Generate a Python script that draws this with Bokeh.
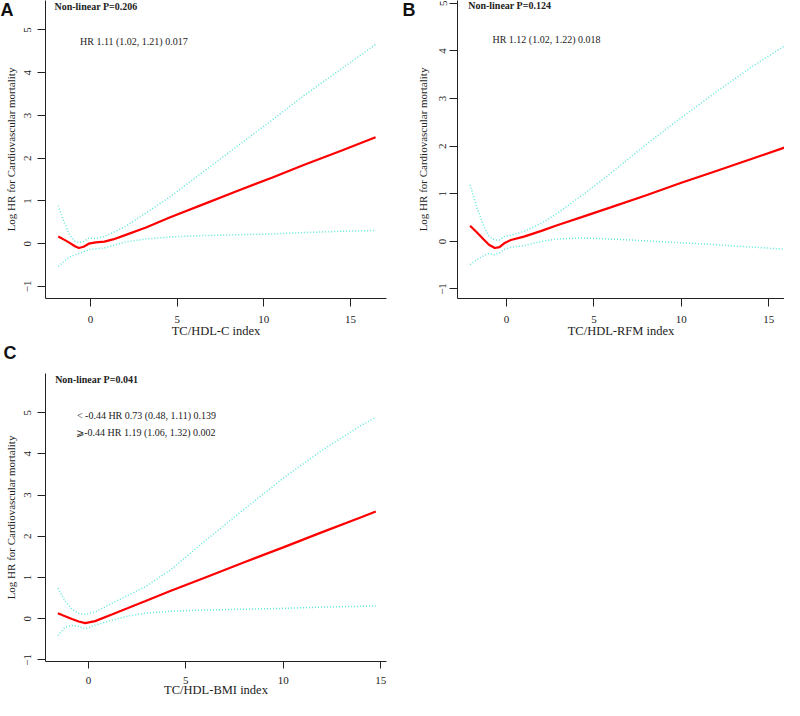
from bokeh.plotting import figure
from bokeh.models import Range1d, FixedTicker, Label
from bokeh.layouts import column, row
from bokeh.embed import file_html
from bokeh.resources import INLINE

# ---------------- data ----------------
x_ticks = [0, 5, 10, 15]
y_ticks = [-1, 0, 1, 2, 3, 4, 5]

# Panel A : TC/HDL-C index
a_x = [-1.86, -1.5, -1.2, -0.9, -0.67, -0.4, -0.1, 0.3, 0.8, 1.3, 2.0, 3.2, 4.6,
       6.5, 8.5, 10.5, 12.3, 14.5, 16.45]
a_hr = [0.17, 0.09, 0.02, -0.06, -0.10, -0.07, 0.00, 0.03, 0.05, 0.10, 0.20, 0.38, 0.62,
        0.92, 1.24, 1.55, 1.84, 2.18, 2.49]
a_upper = [0.89, 0.48, 0.20, 0.06, 0.03, 0.05, 0.13, 0.12, 0.17, 0.26, 0.40, 0.72, 1.10,
           1.68, 2.29, 2.90, 3.46, 4.10, 4.66]
a_lower = [-0.53, -0.40, -0.31, -0.26, -0.23, -0.19, -0.14, -0.12, -0.10, -0.04, 0.04, 0.11, 0.16,
           0.19, 0.21, 0.23, 0.26, 0.29, 0.31]

# Panel B : TC/HDL-RFM index
b_x = [-2.08, -1.7, -1.3, -1.0, -0.67, -0.4, -0.13, 0.25, 1.0, 2.0, 2.9, 4.3,
       6.0, 8.0, 10.0, 12.0, 14.0, 16.21]
b_hr = [0.33, 0.19, 0.04, -0.07, -0.14, -0.12, -0.04, 0.03, 0.10, 0.22, 0.34, 0.51,
        0.72, 0.97, 1.23, 1.48, 1.73, 2.01]
b_upper = [1.19, 0.72, 0.32, 0.11, 0.03, 0.03, 0.10, 0.13, 0.21, 0.38, 0.59, 0.96,
           1.44, 2.04, 2.60, 3.14, 3.66, 4.18]
b_lower = [-0.49, -0.39, -0.30, -0.25, -0.28, -0.24, -0.17, -0.12, -0.09, 0.00, 0.05, 0.07,
           0.05, 0.01, -0.03, -0.07, -0.12, -0.17]

# Panel C : TC/HDL-BMI index
c_x = [-1.57, -1.2, -0.85, -0.5, -0.17, 0.34, 1.2, 2.0, 2.9, 4.2,
       6.0, 8.0, 10.0, 12.0, 14.0, 14.75]
c_hr = [0.13, 0.06, -0.01, -0.07, -0.11, -0.06, 0.10, 0.25, 0.42, 0.67,
        1.00, 1.37, 1.73, 2.10, 2.46, 2.60]
c_upper = [0.74, 0.43, 0.23, 0.13, 0.10, 0.16, 0.37, 0.56, 0.77, 1.18,
           1.89, 2.66, 3.41, 4.09, 4.69, 4.89]
c_lower = [-0.41, -0.21, -0.16, -0.19, -0.25, -0.16, -0.04, 0.06, 0.13, 0.18,
           0.21, 0.23, 0.25, 0.28, 0.30, 0.31]

a_texts = ["Non-linear P=0.206", "HR 1.11 (1.02, 1.21) 0.017"]
b_texts = ["Non-linear P=0.124", "HR 1.12 (1.02, 1.22) 0.018"]
c_texts = ["Non-linear P=0.041", "< -0.44 HR 0.73 (0.48, 1.11) 0.139",
           "\u2a7e-0.44 HR 1.19 (1.06, 1.32) 0.002"]
panel_letters = ["A", "B", "C"]

y_title = "Log HR for Cardiovascular mortality"

SERIF = "Liberation Serif"
RED = "#ff0000"
CI = "#5ee8da"
INK = "#222222"


def panel(width, height, xr, yr, bl, br, bt, bb, xlabel,
          ytick_standoff, ylab_standoff, xtick_out, xtick_standoff, xlab_standoff):
    p = figure(width=width, height=height, x_range=Range1d(*xr), y_range=Range1d(*yr),
               output_backend="svg", toolbar_location=None,
               min_border_left=bl, min_border_right=br, min_border_top=bt,
               min_border_bottom=bb)
    p.outline_line_color = None
    p.xgrid.visible = False
    p.ygrid.visible = False
    p.background_fill_color = "white"
    p.border_fill_color = "white"
    for ax in (p.xaxis, p.yaxis):
        ax.axis_line_color = INK
        ax.axis_line_width = 1
        ax.major_tick_line_color = INK
        ax.minor_tick_line_color = None
        ax.major_tick_in = 0
        ax.major_label_text_font = SERIF
        ax.major_label_text_font_size = "11px"
        ax.major_label_text_color = INK
        ax.axis_label_text_font = SERIF
        ax.axis_label_text_font_style = "normal"
        ax.axis_label_text_color = INK
    p.xaxis.ticker = FixedTicker(ticks=x_ticks)
    p.yaxis.ticker = FixedTicker(ticks=y_ticks)
    p.xaxis.axis_label = xlabel
    p.xaxis.axis_label_text_font_size = "12.5px"
    p.xaxis.major_tick_out = xtick_out
    p.xaxis.major_label_standoff = xtick_standoff
    p.xaxis.axis_label_standoff = xlab_standoff
    p.yaxis.axis_label = y_title
    p.yaxis.axis_label_text_font_size = "11px"
    p.yaxis.major_tick_out = 8
    p.yaxis.major_label_orientation = "vertical"
    p.yaxis.major_label_standoff = ytick_standoff
    p.yaxis.axis_label_standoff = ylab_standoff
    return p


def curves(p, xs, hr, up, lo):
    p.line(xs, up, line_color=CI, line_width=1.5, line_dash="1 2")
    p.line(xs, lo, line_color=CI, line_width=1.5, line_dash="1 2")
    p.line(xs, hr, line_color=RED, line_width=2.2)


def side_letter(p, txt, x, y, side):
    # letter placed in a side panel so that it is not clipped to the plot frame
    p.add_layout(Label(x=x, y=y, x_units="screen", y_units="screen", text=txt,
                       text_font="Liberation Sans", text_font_style="bold",
                       text_font_size="18px", text_color="#111111",
                       text_baseline="top"), side)


def note(p, txt, x, y, bold=False, align="left"):
    p.add_layout(Label(x=x, y=y, text=txt, text_font=SERIF,
                       text_font_style="bold" if bold else "normal",
                       text_font_size="10px", text_color=INK, text_baseline="middle",
                       text_align=align))


# Panel A
pa = panel(400, 340, (-2.597, 17.08), (-1.282, 5.69), 45, 14, 0, 41,
           "TC/HDL-C index", 6, 5, 8, 9, -2)
curves(pa, a_x, a_hr, a_upper, a_lower)
note(pa, a_texts[0], -2.08, 5.55, bold=True)
note(pa, a_texts[1], 2.5, 4.72, align="center")
side_letter(pa, panel_letters[0], -386, 299, "right")

# Panel B
pb = panel(384, 340, (-2.80, 15.90), (-1.20, 5.06), 57, 0, 0, 41,
           "TC/HDL-RFM index", 3, 8, 8, 9, -2)
curves(pb, b_x, b_hr, b_upper, b_lower)
note(pb, b_texts[0], -2.19, 4.95, bold=True)
note(pb, b_texts[1], 2.29, 4.24, align="center")
side_letter(pb, panel_letters[1], 2, 299, "left")

# Panel C
pc = panel(400, 360, (-2.205, 15.30), (-1.04, 5.95), 45, 14, 33, 39,
           "TC/HDL-BMI index", 6, 5, 7, 8, -4)
curves(pc, c_x, c_hr, c_upper, c_lower)
note(pc, c_texts[0], -1.71, 5.80, bold=True)
note(pc, c_texts[1], 2.98, 4.94, align="center")
note(pc, c_texts[2], 2.95, 4.51, align="center")
side_letter(pc, panel_letters[2], -383, 319, "right")

layout = column(row(pa, pb), pc)
open("out.html", "w").write(file_html(layout, INLINE))
